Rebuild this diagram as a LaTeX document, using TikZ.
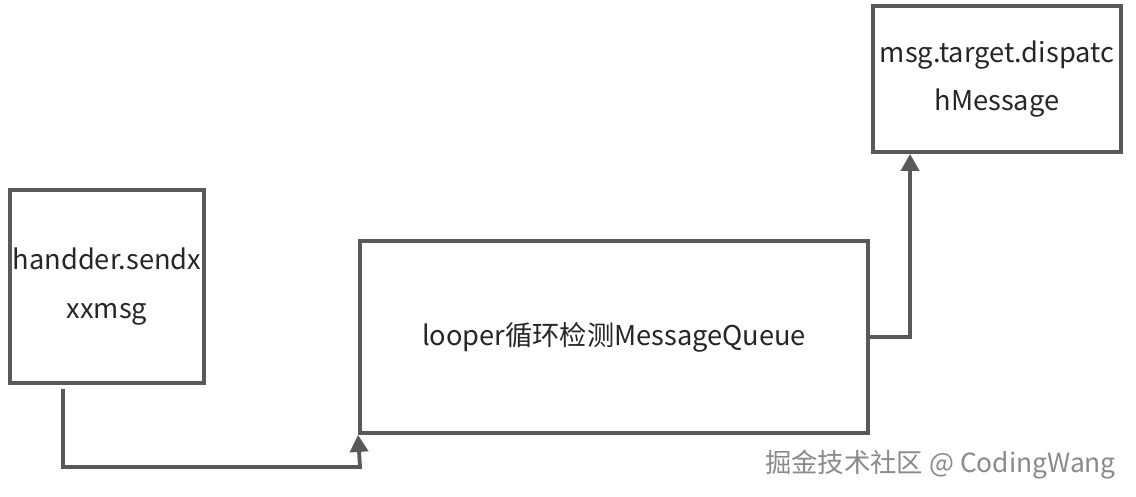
\documentclass[tikz,border=0pt]{standalone}
\usepackage{fontspec}
\setmainfont{Noto Sans CJK SC}
\usetikzlibrary{arrows.meta}
\definecolor{linegray}{HTML}{595959}
\definecolor{textdark}{HTML}{262626}
\definecolor{markgray}{HTML}{8A8A8A}
\begin{document}
\begin{tikzpicture}[
    box/.style={rectangle, draw=linegray, line width=2.2pt, fill=white, align=center,
                text=textdark, font=\fontsize{15.5}{27.5}\selectfont, inner sep=0pt},
    arrow/.style={-{Triangle[width=0.36cm,length=0.34cm]}, draw=linegray, line width=2.2pt}
]
    \useasboundingbox[fill=white] (0,0) rectangle (22.72,-9.94);

    % Nodes
    \node[box, minimum width=3.88cm, minimum height=3.86cm] (send) at (2.14,-5.73) {handder.sendx\\xxmsg};
    \node[box, minimum width=10.16cm, minimum height=3.84cm] (loop) at (12.28,-6.74) {looper循环检测MessageQueue};
    \node[box, minimum width=4.96cm, minimum height=2.92cm] (disp) at (19.94,-1.58) {msg.target.dispatc\\hMessage};

    % Edges
    \coordinate (start) at (1.26,-7.78);
    \coordinate (bend) at (7.2,-9.34);
    \draw[arrow] (start) |- (bend) -- (loop.south west);
    \draw[arrow] (loop.east) -| ([xshift=0.78cm]disp.south west);

    % Labels
    \node[text=markgray, font=\fontsize{15}{17}\selectfont, anchor=east] (mark) at (22.44,-9.3) {掘金技术社区 @ CodingWang};
\end{tikzpicture}
\end{document}
